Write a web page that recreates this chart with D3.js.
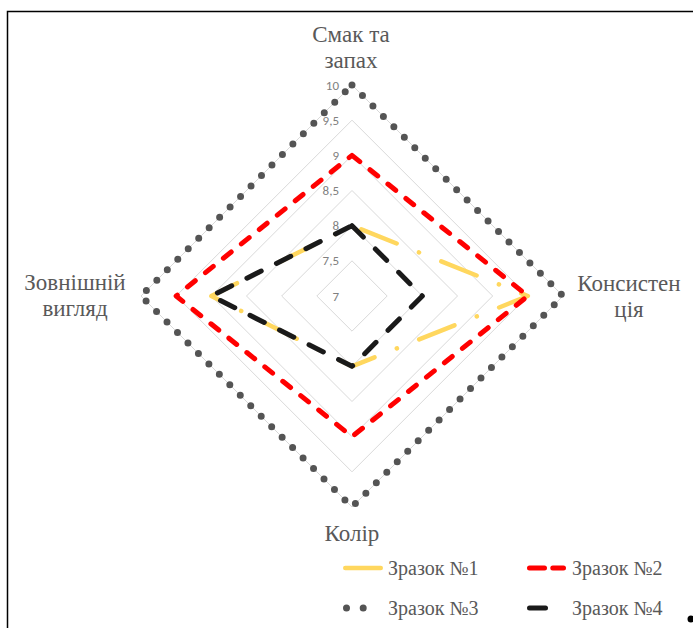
<!DOCTYPE html>
<html>
<head>
<meta charset="utf-8">
<script src="https://cdn.jsdelivr.net/npm/d3@7/dist/d3.min.js"></script>
<style>
  html, body { margin: 0; padding: 0; background: #fff; }
  svg { display: block; }
  .serif { font-family: "Liberation Serif", "Times New Roman", Tinos, "DejaVu Serif", serif; }
  .tick { font-family: Carlito, Calibri, "Liberation Sans", Arial, sans-serif; }
</style>
</head>
<body>
<svg id="chart" width="693" height="628"></svg>
<script>
// Sensory profile: four criteria, four samples
const axisLines = [["Смак та", "запах"], ["Консистен", "ція"], ["Колір"], ["Зовнішній", "вигляд"]];
const tickValues = [7, 7.5, 8, 8.5, 9, 9.5, 10];
const tickLabels = ["7", "7,5", "8", "8,5", "9", "9,5", "10"];
const seriesNames = ["Зразок №1", "Зразок №2", "Зразок №3", "Зразок №4"];
const sample1 = [8, 9.5, 8, 9];
const sample2 = [9, 9.5, 9, 9.5];
const sample3 = [10, 10, 10, 10];
const sample4 = [8, 8, 8, 9];

const seriesValues = [sample1, sample2, sample3, sample4];
const styles = [
  { color: "#ffd75e", width: 4.5, dash: "38,24,0.1,24", offset: 76 },
  { color: "#ff0000", width: 5, dash: "10,13", offset: 0 },
  { color: "#545454", width: 7, dash: "0,14.8", offset: 0 },
  { color: "#1a1a1a", width: 5, dash: "16,17", offset: 0 }
];

const svg = d3.select("#chart");
const cx = 352, cy = 296;
const r = d3.scaleLinear().domain([7, 10]).range([0, 211]);
const angle = d3.scaleLinear().domain([0, axisLines.length]).range([0, 2 * Math.PI]);

// frame
svg.append("path")
  .attr("d", "M7.5,628 V11.5 H693")
  .attr("fill", "none").attr("stroke", "#000").attr("stroke-width", 1.5);
svg.append("circle").attr("cx", 691).attr("cy", 619).attr("r", 3.5).attr("fill", "#000");

const radial = d3.lineRadial()
  .angle(d => d.a).radius(d => d.r)
  .curve(d3.curveLinearClosed);

// grid rings
const grid = svg.append("g").attr("transform", `translate(${cx},${cy})`);
tickValues.filter(v => v > 7).forEach(v => {
  grid.append("path")
    .attr("d", radial(axisLines.map((_, i) => ({ a: angle(i), r: r(v) }))))
    .attr("fill", "none").attr("stroke", "#d9d9d9").attr("stroke-width", 1);
});

// tick labels along the top axis
svg.append("g").selectAll("text").data(tickValues).join("text")
  .attr("class", "tick")
  .attr("x", 339).attr("y", d => cy - r(d))
  .attr("dy", "0.35em").attr("text-anchor", "end")
  .attr("font-size", 13).attr("fill", "#808080")
  .text((d, i) => tickLabels[i]);

// series
const plot = svg.append("g").attr("transform", `translate(${cx},${cy})`);
seriesValues.forEach((vals, s) => {
  const st = styles[s];
  plot.append("path")
    .attr("d", radial(vals.map((v, i) => ({ a: angle(i), r: r(v) }))))
    .attr("fill", "none")
    .attr("stroke", st.color)
    .attr("stroke-width", st.width)
    .attr("stroke-dasharray", st.dash)
    .attr("stroke-dashoffset", st.offset)
    .attr("stroke-linecap", "round")
    .attr("stroke-linejoin", "round");
});

// axis labels
const labelPos = [
  { x: 351, y: 42 },
  { x: 629, y: 291 },
  { x: 352, y: 541 },
  { x: 75, y: 290 }
];
axisLines.forEach((lines, i) => {
  const t = svg.append("text")
    .attr("class", "serif")
    .attr("x", labelPos[i].x).attr("y", labelPos[i].y)
    .attr("text-anchor", "middle")
    .attr("font-size", 23).attr("fill", "#595959");
  lines.forEach((ln, k) => {
    t.append("tspan").attr("x", labelPos[i].x).attr("dy", k === 0 ? 0 : 26).text(ln);
  });
});

// legend
const legendPos = [
  { x: 343, y: 568 }, { x: 527, y: 568 },
  { x: 343, y: 608 }, { x: 527, y: 608 }
];
const sampleLen = [40, 39, 38.5, 21];
const legendDash = [null, "15,8.3", "0,16.7", null];
const legend = svg.append("g");
seriesNames.forEach((name, s) => {
  const p = legendPos[s], st = styles[s];
  const x0 = p.x + st.width / 2, x1 = p.x + sampleLen[s] - st.width / 2;
  legend.append("line")
    .attr("x1", x0).attr("x2", x1).attr("y1", p.y).attr("y2", p.y)
    .attr("stroke", st.color).attr("stroke-width", st.width)
    .attr("stroke-linecap", "round")
    .attr("stroke-dasharray", legendDash[s]);
  legend.append("text")
    .attr("class", "serif")
    .attr("x", p.x + 45).attr("y", p.y + 7)
    .attr("font-size", 20).attr("fill", "#595959")
    .text(name);
});
</script>
</body>
</html>
